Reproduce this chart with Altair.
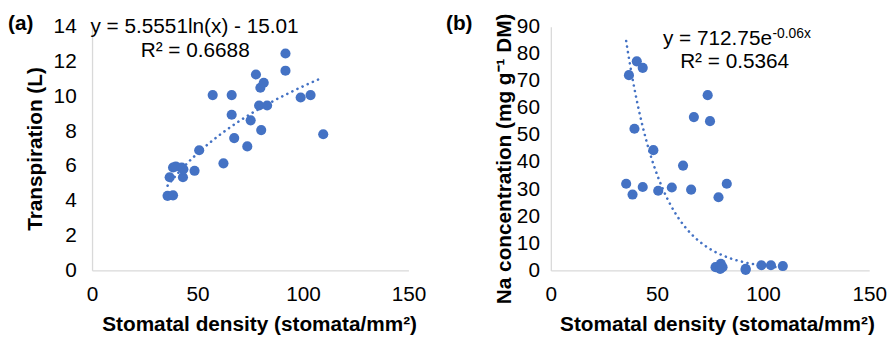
import altair as alt
import pandas as pd

# ---------------- data ----------------
# Panel (a): stomatal density vs transpiration
a_density = [35.8, 38.4, 36.8, 43.1, 38.4, 39.7, 42.5, 43.3, 48.6, 50.8, 62.3, 73.6, 67.4,
             109.6, 80.2, 75.2, 66.2, 79.2, 83.0, 57.2, 66.2, 98.9, 103.6, 79.8, 81.4,
             77.7, 91.7, 91.7]
a_transp = [4.28, 4.31, 5.35, 5.35, 5.91, 5.97, 5.90, 5.81, 5.72, 6.90, 6.15, 7.12, 7.60,
            7.82, 8.06, 8.62, 8.94, 9.47, 9.47, 10.07, 10.07, 9.93, 10.07, 10.49, 10.78,
            11.25, 11.47, 12.46]

# Panel (b): stomatal density vs Na concentration
b_density = [35.5, 36.8, 38.5, 39.4, 40.5, 43.3, 43.3, 48.3, 50.6, 57.0, 62.3, 66.1, 67.4,
             73.9, 75.0, 77.6, 79.0, 79.8, 80.1, 80.9, 82.9, 91.8, 91.8, 99.2, 103.7, 109.3]
b_na = [32.0, 72.1, 28.0, 52.3, 77.2, 74.8, 30.8, 44.4, 29.4, 30.6, 38.7, 29.8, 56.6,
        64.7, 55.1, 1.2, 27.0, 0.5, 2.4, 1.2, 32.0, 0.6, 0.2, 1.9, 1.9, 1.6]

x_ticks = [0, 50, 100, 150]
a_y_ticks = [0, 2, 4, 6, 8, 10, 12, 14]
b_y_ticks = [0, 10, 20, 30, 40, 50, 60, 70, 80, 90]

# trendline equations (as printed on the chart)
a_eq_text = ["y = 5.5551ln(x) - 15.01", "R² = 0.6688"]
a_eq_x = [48.6, 48.9]
a_eq_y = [13.95, 12.6]
b_eq_main = "y = 712.75e"
b_eq_sup = "-0.06x"
b_eq_r2 = "R² = 0.5364"

FONT = "Liberation Sans"
BLUE = "#4472C4"
AXIS_GRAY = "#d9d9d9"

df_a = pd.DataFrame({"x": a_density, "y": a_transp})
df_b = pd.DataFrame({"x": b_density, "y": b_na})

W_A, W_B, H = 320, 322, 246.5


def x_axis(title_shift):
    return alt.Axis(values=x_ticks, ticks=False, grid=False, domainColor=AXIS_GRAY,
                    domainWidth=1.3, labelFont=FONT, labelFontSize=21, labelColor="#000",
                    labelPadding=13, labelFlush=False, labelOverlap=False,
                    titleFont=FONT, titleFontSize=21, titleFontWeight="bold",
                    titleColor="#000", titlePadding=10, titleX=title_shift)


def y_axis(values, pad, tpad, title_y):
    return alt.Axis(values=values, ticks=False, grid=False, domainColor=AXIS_GRAY,
                    domainWidth=1.3, labelFont=FONT, labelFontSize=21, labelColor="#000",
                    labelPadding=pad, labelFlush=False, labelOverlap=False,
                    titleFont=FONT, titleFontSize=21, titleFontWeight="bold",
                    titleColor="#000", titlePadding=tpad, titleY=title_y)


xs_a = alt.Scale(domain=[0, 150], nice=False)
ys_a = alt.Scale(domain=[0, 14], nice=False)
xs_b = alt.Scale(domain=[0, 150], nice=False)
ys_b = alt.Scale(domain=[0, 90], nice=False)

ax_xa = x_axis(W_A / 2 + 9)
ax_ya = y_axis(a_y_ticks, 16, 8, H / 2)
ax_xb = x_axis(W_B / 2 + 7)
ax_yb = y_axis(b_y_ticks, 11.5, 2, H / 2 + 10)

XT = "Stomatal density (stomata/mm²)"


def enc_a():
    return dict(x=alt.X("x:Q", scale=xs_a, axis=ax_xa, title=XT),
                y=alt.Y("y:Q", scale=ys_a, axis=ax_ya, title="Transpiration (L)"))


def enc_b():
    return dict(x=alt.X("x:Q", scale=xs_b, axis=ax_xb, title=XT),
                y=alt.Y("y:Q", scale=ys_b, axis=ax_yb, title="Na concentration (mg g⁻¹ DM)"))


# ---------- panel (a) ----------
pts_a = alt.Chart(df_a).mark_circle(size=105, opacity=1, color=BLUE).encode(**enc_a())
trend_a = alt.Chart(alt.sequence(35.8, 109.7, 0.5, as_="x")).transform_calculate(
    y="5.5551*log(datum.x) - 15.01"
).mark_line(color=BLUE, strokeWidth=2.6, strokeDash=[0.1, 5.6], strokeCap="round").encode(**enc_a())
eq_a = alt.Chart(pd.DataFrame({"x": a_eq_x, "y": a_eq_y, "t": a_eq_text})).mark_text(
    font=FONT, fontSize=21, color="#000", align="center", baseline="middle"
).encode(text="t:N", **enc_a())
lab_a = alt.Chart(pd.DataFrame({"t": ["(a)"]})).mark_text(
    font=FONT, fontSize=21, fontWeight="bold", color="#000", align="left", baseline="middle"
).encode(x=alt.value(-85), y=alt.value(-2.5), text="t:N")

panel_a = alt.layer(trend_a, pts_a, eq_a, lab_a).properties(width=W_A, height=H)

# ---------- panel (b) ----------
pts_b = alt.Chart(df_b).mark_circle(size=105, opacity=1, color=BLUE).encode(**enc_b())
trend_b = alt.Chart(alt.sequence(35.5, 109.4, 0.5, as_="x")).transform_calculate(
    y="712.75*exp(-0.06*datum.x)"
).mark_line(color=BLUE, strokeWidth=2.6, strokeDash=[0.1, 5.6], strokeCap="round").encode(**enc_b())
eq_b1 = alt.Chart(pd.DataFrame({"x": [104.2], "y": [85.5], "t": [b_eq_main]})).mark_text(
    font=FONT, fontSize=21, color="#000", align="right", baseline="middle"
).encode(text="t:N", **enc_b())
eq_b2 = alt.Chart(pd.DataFrame({"x": [104.4], "y": [87.2], "t": [b_eq_sup]})).mark_text(
    font=FONT, fontSize=14, color="#000", align="left", baseline="middle"
).encode(text="t:N", **enc_b())
eq_b3 = alt.Chart(pd.DataFrame({"x": [86.6], "y": [76.8], "t": [b_eq_r2]})).mark_text(
    font=FONT, fontSize=21, color="#000", align="center", baseline="middle"
).encode(text="t:N", **enc_b())
lab_b = alt.Chart(pd.DataFrame({"t": ["(b)"]})).mark_text(
    font=FONT, fontSize=21, fontWeight="bold", color="#000", align="left", baseline="middle"
).encode(x=alt.value(-106), y=alt.value(-3), text="t:N")

panel_b = alt.layer(trend_b, pts_b, eq_b1, eq_b2, eq_b3, lab_b).properties(width=W_B, height=H)

chart = alt.hconcat(panel_a, panel_b, spacing=20).properties(
    padding={"left": 0, "top": 3, "right": 0, "bottom": 0},
    background="white",
).configure_view(strokeWidth=0)

chart.save("out.html", embed_options={"renderer": "svg", "actions": False})
